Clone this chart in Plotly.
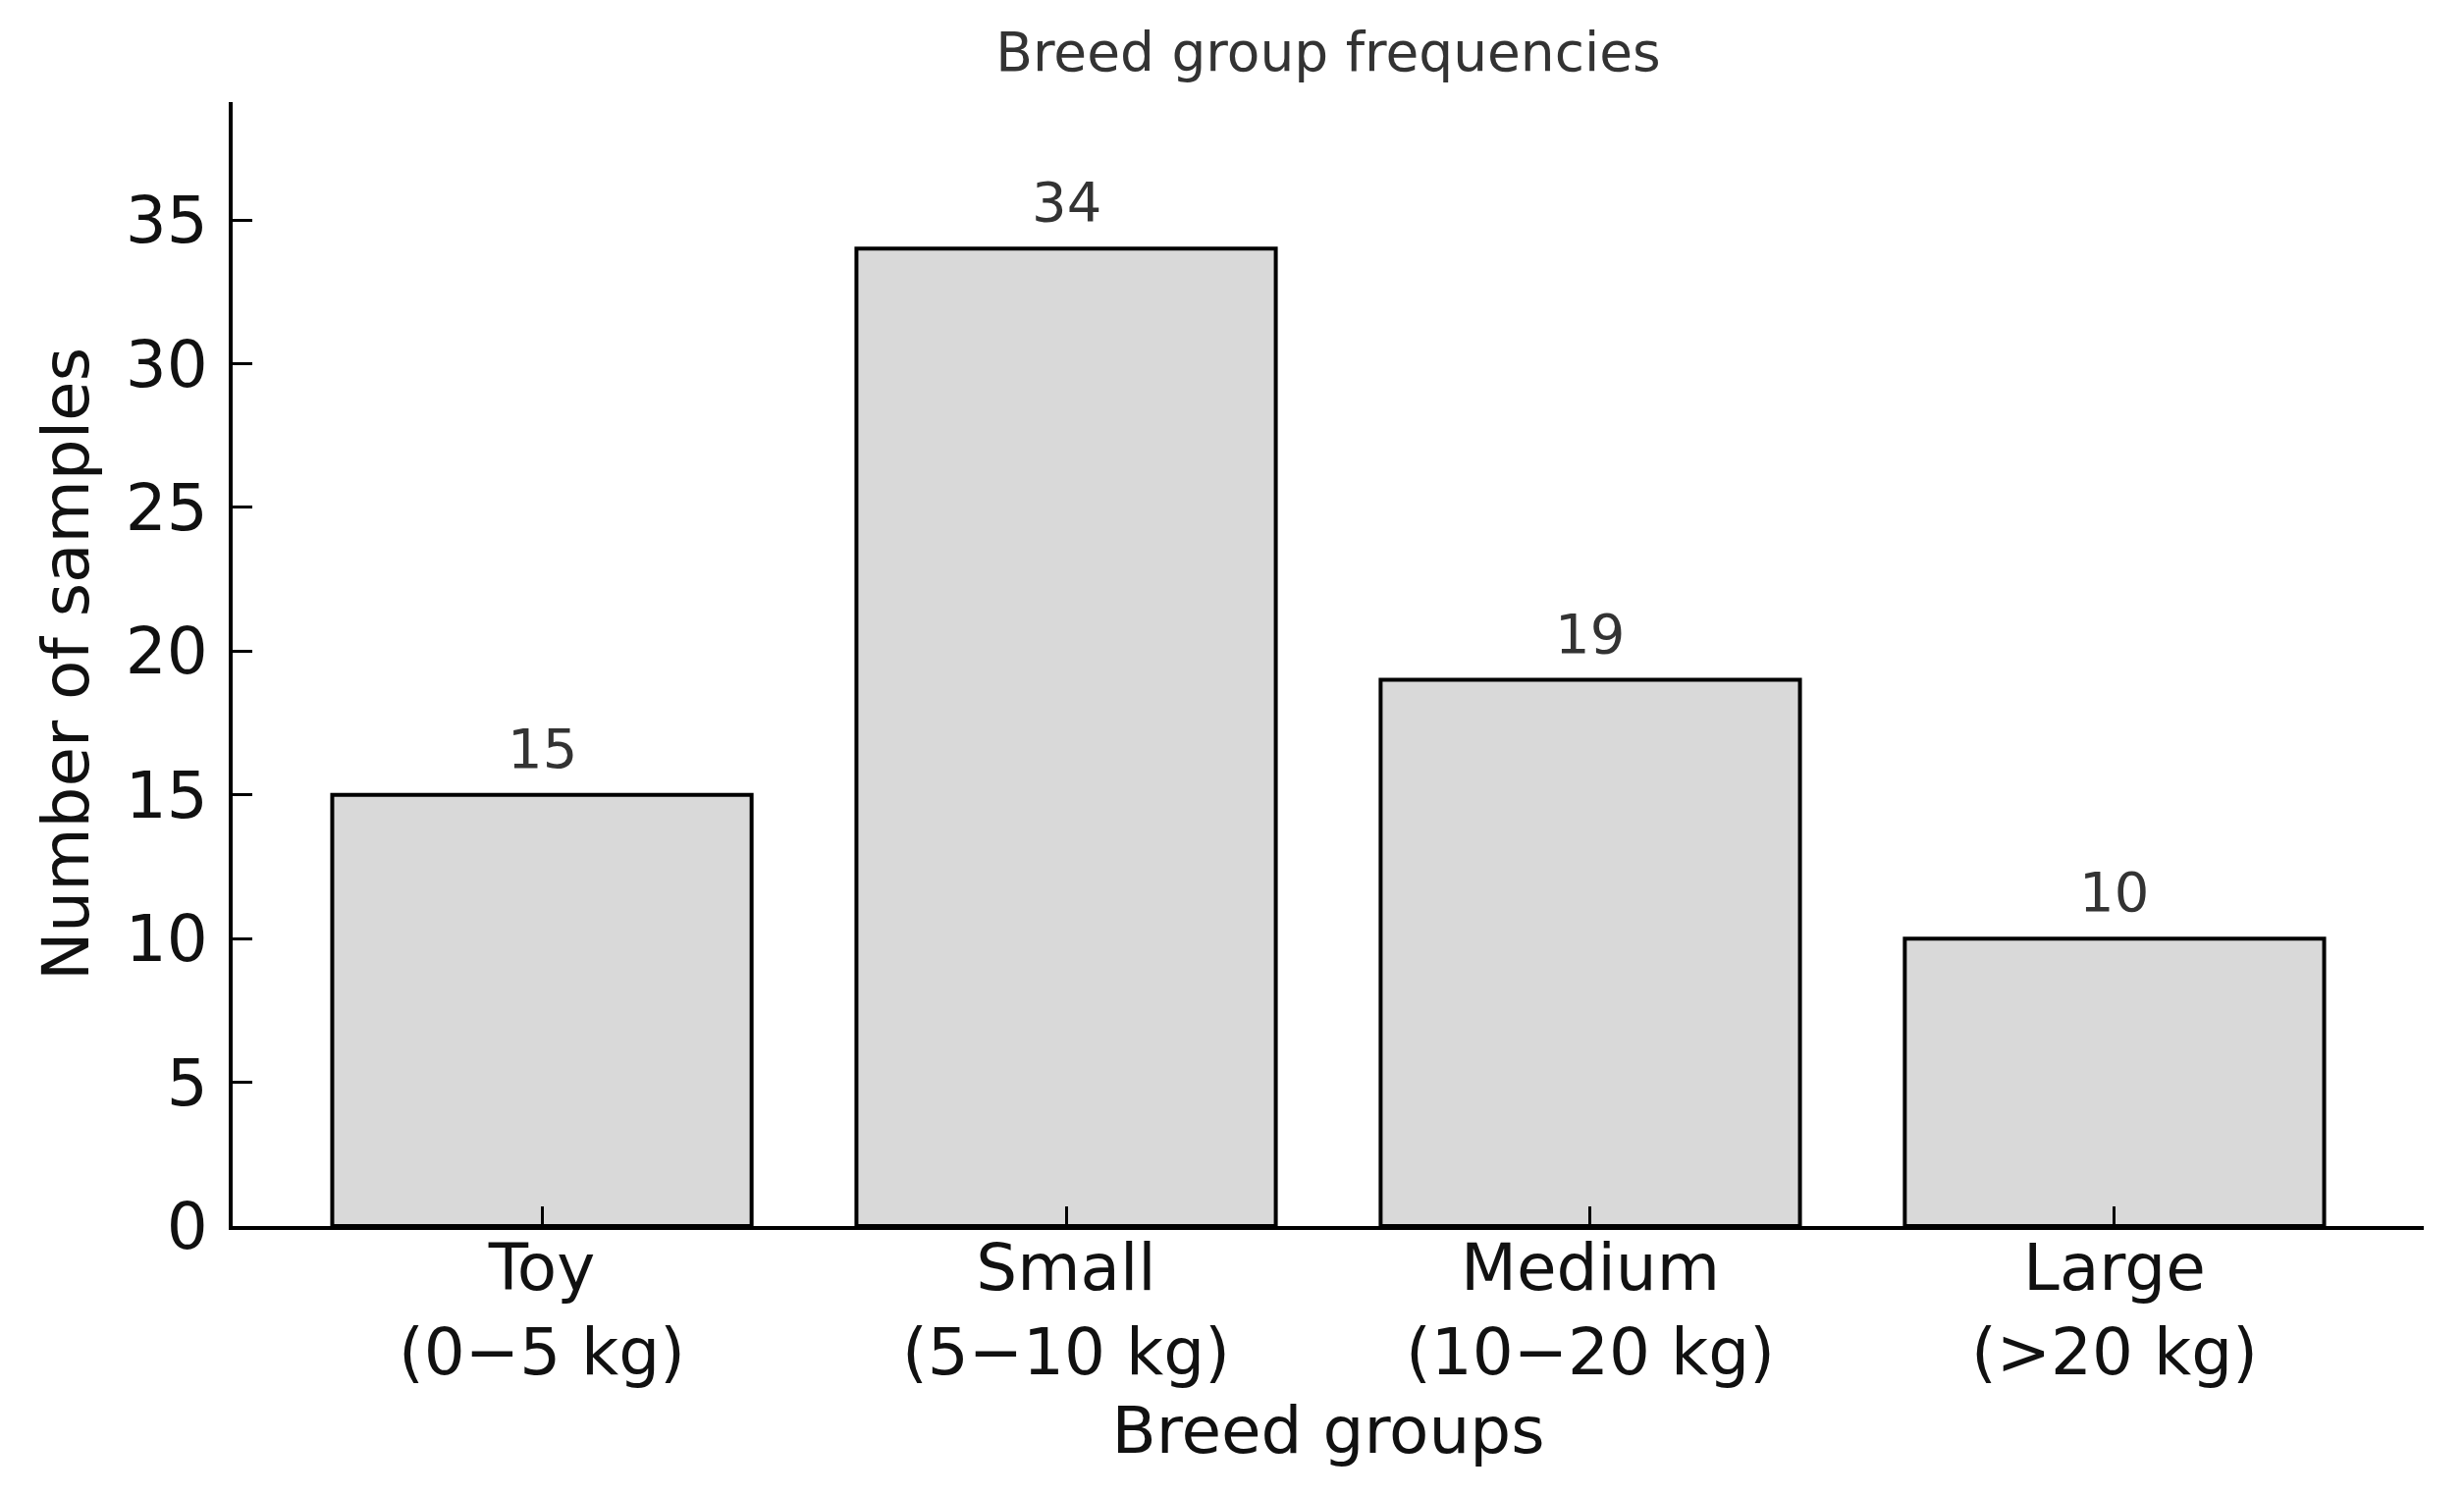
import plotly.graph_objects as go

groups = ["Toy", "Small", "Medium", "Large"]
weight_ranges = ["(0−5 kg)", "(5−10 kg)", "(10−20 kg)", "(>20 kg)"]
counts = [15, 34, 19, 10]
y_ticks = [0, 5, 10, 15, 20, 25, 30, 35]

labels = [f"{g}<br>{w}" for g, w in zip(groups, weight_ranges)]
FONT = "DejaVu Sans"

fig = go.Figure()
fig.add_trace(go.Bar(
    x=labels, y=counts, width=0.8,
    marker=dict(color="#d9d9d9", line=dict(color="black", width=4)),
))

for lab, c in zip(labels, counts):
    fig.add_annotation(
        x=lab, y=c, text=str(c), showarrow=False,
        xanchor="center", yanchor="bottom", yshift=13,
        font=dict(family=FONT, size=56, color="#333333"),
    )

fig.update_layout(
    width=2510, height=1523,
    margin=dict(l=229, r=49, t=96, b=282),
    plot_bgcolor="white", paper_bgcolor="white",
    showlegend=False,
    bargap=0.2,
    title=dict(text="Breed group frequencies", x=0.5, xref="paper",
               y=1 - 45 / 1523, yref="container", yanchor="middle", xanchor="center",
               font=dict(family=FONT, size=55, color="#333333")),
    font=dict(family=FONT, color="#111111"),
)
fig.update_xaxes(
    type="category", range=[-0.59, 3.59],
    showline=True, linecolor="black", linewidth=4,
    ticks="inside", ticklen=20, tickwidth=3, tickcolor="black",
    ticklabelstandoff=-18,
    tickfont=dict(family=FONT, size=66, color="#111111"),
    showgrid=False, zeroline=False,
    title=dict(text="Breed groups", font=dict(family=FONT, size=66, color="#111111"), standoff=20),
)
fig.update_yaxes(
    range=[0, 34 * 1.15], tickvals=y_ticks,
    showline=True, linecolor="black", linewidth=4,
    ticks="inside", ticklen=20, tickwidth=3, tickcolor="black",
    ticklabelstandoff=8,
    tickfont=dict(family=FONT, size=66, color="#111111"),
    showgrid=False, zeroline=False,
    title=dict(text="Number of samples", font=dict(family=FONT, size=66, color="#111111"), standoff=17),
)

fig.write_html("out.html")
